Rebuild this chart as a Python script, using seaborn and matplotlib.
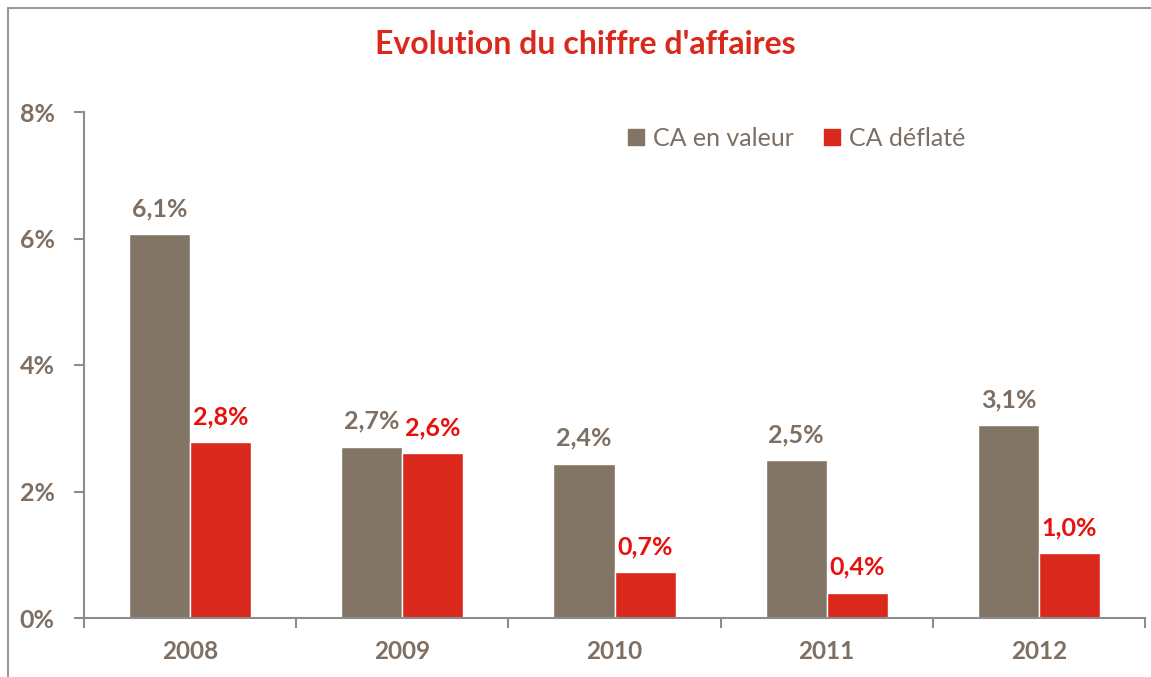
import matplotlib
matplotlib.use("Agg")
import matplotlib.pyplot as plt
import seaborn as sns
import pandas as pd
from matplotlib.lines import Line2D

years = ['2008', '2009', '2010', '2011', '2012']
ca_valeur = [6.07, 2.71, 2.44, 2.50, 3.05]
ca_deflate = [2.78, 2.61, 0.73, 0.40, 1.03]
labels_valeur = ['6,1%', '2,7%', '2,4%', '2,5%', '3,1%']
labels_deflate = ['2,8%', '2,6%', '0,7%', '0,4%', '1,0%']
series = ['CA en valeur', 'CA déflaté']

GREY = '#837566'
RED = '#DA291C'
TXT = '#7F6F62'
AX = '#8C8C8C'

df = pd.DataFrame({
    'annee': years * 2,
    'valeur': ca_valeur + ca_deflate,
    'serie': [series[0]] * len(years) + [series[1]] * len(years),
})

sns.set_style('white')
plt.rcParams['font.family'] = ['Lato', 'DejaVu Sans']

fig = plt.figure(figsize=(11.51, 6.77), dpi=100)
ax = fig.add_axes([84 / 1151, 1 - 618 / 677, (1145 - 84) / 1151, (618 - 112) / 677])

sns.barplot(data=df, x='annee', y='valeur', hue='serie', palette=[GREY, RED],
            width=0.575, gap=0, saturation=1, ax=ax, legend=False)

for cont, labs, col in zip(ax.containers, [labels_valeur, labels_deflate], [TXT, '#E8100C']):
    ax.bar_label(cont, labels=labs, padding=10, fontsize=18, fontweight='bold', color=col)

ax.set_xlim(-0.5, len(years) - 0.5)
ax.set_ylim(0, 8)
ax.set_yticks([0, 2, 4, 6, 8])
ax.set_yticklabels(['0%', '2%', '4%', '6%', '8%'])
ax.set_xlabel('')
ax.set_ylabel('')
for s in ['top', 'right']:
    ax.spines[s].set_visible(False)
for s in ['left', 'bottom']:
    ax.spines[s].set_color(AX)
    ax.spines[s].set_linewidth(1.5)
ax.tick_params(axis='y', left=True, length=7, width=1.5, color=AX, labelsize=18,
               labelcolor=TXT, pad=14)
ax.tick_params(axis='x', bottom=False, labelsize=17.5, labelcolor=TXT, pad=12)
for t in ax.get_xticklabels() + ax.get_yticklabels():
    t.set_fontweight('bold')
# x ticks between categories
ax.set_xticks([i - 0.5 for i in range(len(years) + 1)], minor=True)
ax.tick_params(axis='x', which='minor', bottom=True, length=7, width=1.5, color=AX)

handles = [plt.Rectangle((0, 0), 1, 1, color=c) for c in [GREY, RED]]
ax.legend(handles, series, loc='upper right', bbox_to_anchor=(0.852, 1.015), ncol=2,
          frameon=False, fontsize=18, labelcolor=TXT, handlelength=0.65,
          handleheight=0.65, handletextpad=0.35, columnspacing=1.2)

fig.text(585 / 1151, 1 - 45 / 677, "Evolution du chiffre d'affaires", ha='center',
         va='center', fontsize=23, fontweight='bold', color=RED)

# frame lines of the original picture
fig.add_artist(Line2D([8 / 1151, 8 / 1151], [0, 1 - 8 / 677], color='#999999', lw=1.5,
                      transform=fig.transFigure))
fig.add_artist(Line2D([8 / 1151, 1], [1 - 8 / 677, 1 - 8 / 677], color='#999999', lw=1.5,
                      transform=fig.transFigure))

fig.savefig('out.png', dpi=100)
